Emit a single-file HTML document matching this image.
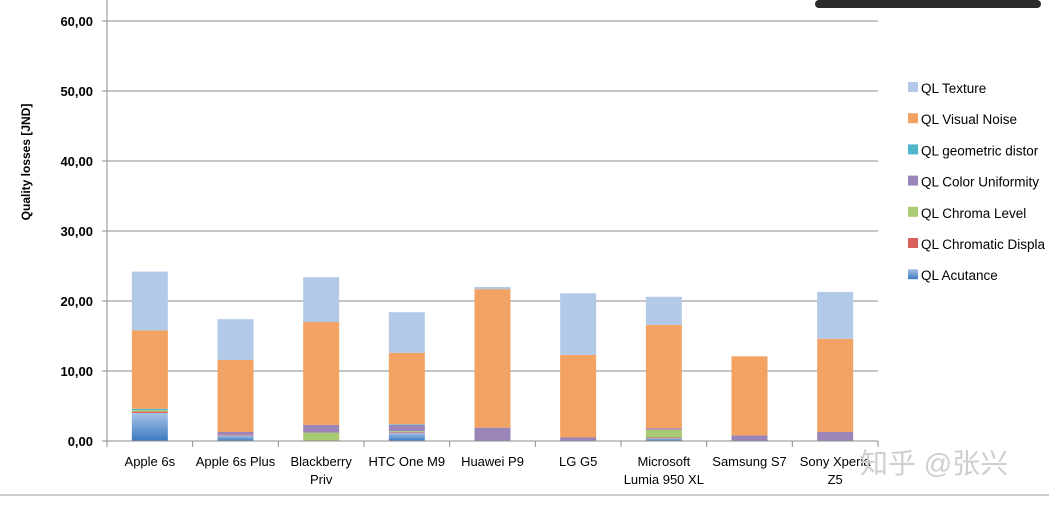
<!DOCTYPE html>
<html><head><meta charset="utf-8"><style>
body{margin:0;background:#fff;font-family:"Liberation Sans","Noto Sans CJK SC",sans-serif}
svg text{font-family:"Liberation Sans","Noto Sans CJK SC",sans-serif}
</style></head><body>
<svg id="c" width="1049" height="505" viewBox="0 0 1049 505" xmlns="http://www.w3.org/2000/svg">
<defs>
<linearGradient id="g0" x1="0" y1="0" x2="0" y2="1"><stop offset="0" stop-color="#a8c3e6"/><stop offset="1" stop-color="#3b79c0"/></linearGradient>
</defs>
<rect x="815" y="0" width="226" height="8" rx="4" fill="#2b2b2b"/>
<line x1="0" y1="495" x2="1049" y2="495" stroke="#999"/>
<g id="grid"></g><g id="bars"></g><g id="axes"></g><g id="legend"></g>
<text x="30" y="162" transform="rotate(-90 30 162)" text-anchor="middle" font-size="12" font-weight="bold">Quality losses [JND]</text>
<text x="860" y="473" font-size="28" fill="#cfcfcf">知乎 @张兴</text>
</svg>
<script>
const categories=[["Apple 6s"],["Apple 6s Plus"],["Blackberry","Priv"],["HTC One M9"],["Huawei P9"],["LG G5"],["Microsoft","Lumia 950 XL"],["Samsung S7"],["Sony Xperia","Z5"]];
const seriesNames=["QL Acutance","QL Chromatic Displa","QL Chroma Level","QL Color Uniformity","QL geometric distor","QL Visual Noise","QL Texture"];
const acutance=[4.0,0.8,0,1.2,0,0,0.4,0,0];
const chromaticDisp=[0.2,0.1,0,0.1,0,0,0.1,0,0];
const chromaLevel=[0.2,0,1.2,0.1,0,0,1.1,0,0];
const colorUniformity=[0,0.4,1.1,0.9,1.9,0.5,0.2,0.8,1.3];
const geometric=[0.2,0,0,0.1,0,0,0,0,0];
const visualNoise=[11.2,10.3,14.7,10.2,19.8,11.8,14.8,11.3,13.3];
const texture=[8.4,5.8,6.4,5.8,0.3,8.8,4.0,0,6.7];
const yTicks=[0,10,20,30,40,50,60];
const series=[acutance,chromaticDisp,chromaLevel,colorUniformity,geometric,visualNoise,texture];
const colors=["url(#g0)","#d9605d","#a9cc73","#9b84b8","#4fb6cc","#f2a262","#b3c9e8"];
const ns="http://www.w3.org/2000/svg";
const x0=107,x1=878,yBase=441,yTop=21,yMax=60;
const y=v=>yBase-(v/yMax)*(yBase-yTop);
const band=(x1-x0)/categories.length;
const xc=i=>x0+band*(i+0.5);
function mk(t,a,p){const e=document.createElementNS(ns,t);for(const k in a)e.setAttribute(k,a[k]);p.appendChild(e);return e;}
const grid=document.getElementById('grid'),bars=document.getElementById('bars'),axes=document.getElementById('axes'),legend=document.getElementById('legend');
yTicks.forEach(v=>{
 if(v>0){const l=mk('line',{x1:x0,x2:x1,y1:y(v),y2:y(v),stroke:'#8c8c8c'},grid);
 
 }
 const tk=mk('line',{x1:x0-5,x2:x0,y1:y(v),y2:y(v),stroke:'#8c8c8c'},axes);
 
 
 const t=mk('text',{x:x0-14,y:y(v)+5,'text-anchor':'end','font-size':13,'font-weight':'bold'},axes);
 t.textContent=v.toFixed(2).replace('.',',');
 
 
});
categories.forEach((c,i)=>{
 let acc=0;
 series.forEach((s,k)=>{
  const v=s[i];if(v<=0)return;
  const r=mk('rect',{x:xc(i)-18,width:36,y:y(acc+v),height:y(acc)-y(acc+v),fill:colors[k]},bars);
  
  
  acc+=v;
 });
 const tk=mk('line',{x1:x0+band*(i+1),x2:x0+band*(i+1),y1:yBase,y2:yBase+6,stroke:'#8c8c8c'},axes);
 
 
 c.forEach((line,j)=>{
  const t=mk('text',{x:xc(i),y:466+j*18,'text-anchor':'middle','font-size':13},axes);
  t.textContent=line;
  
  
 });
});
const ax=mk('line',{x1:x0,x2:x0,y1:0,y2:yBase+6,stroke:'#8c8c8c'},axes);


const xa=mk('line',{x1:x0,x2:x1,y1:yBase,y2:yBase,stroke:'#8c8c8c'},axes);


for(let k=6;k>=0;k--){
 const ly=88+(6-k)*31.2;
 const r=mk('rect',{x:908,y:ly-6,width:10,height:10,fill:colors[k]},legend);
 
 
 const t=mk('text',{x:921,y:ly+5,'font-size':13.5},legend);
 t.textContent=seriesNames[k];
 
 
}
</script>
</body></html>
